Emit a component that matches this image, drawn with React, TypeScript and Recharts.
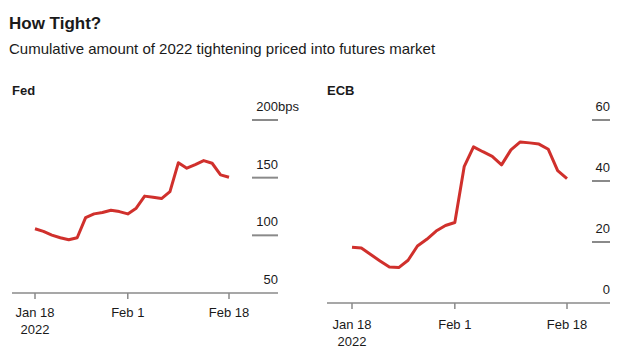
import { LineChart, Line, XAxis, YAxis } from 'recharts';

// x positions are trading-day index; ticks sit at these indexes
const tickIndex = [0, 11, 23];
const tickLabels = ['Jan 18', 'Feb 1', 'Feb 18'];
const yearLabel = '2022';

// basis points of 2022 tightening priced in
const fedValues = [
  105.7, 103.4, 100.2, 97.9, 96.1, 97.9, 115.4, 118.6, 119.8, 121.8, 120.6, 118.6,
  123.5, 134.0, 133.1, 131.9, 137.9, 163.0, 158.2, 161.3, 164.8, 162.5, 152.4, 150.4,
];
const ecbValues = [
  18.3, 18.0, 15.9, 13.8, 11.8, 11.6, 14.0, 18.7, 20.9, 23.6, 25.4, 26.4,
  44.7, 51.2, 49.6, 48.1, 45.3, 50.2, 52.8, 52.5, 52.1, 50.4, 43.4, 40.8,
];
const fedTicks = [50, 100, 150, 200];
const ecbTicks = [0, 20, 40, 60];

const RED = '#d0302c';
const GREY = '#8a8a8a';
const TEXT = '#1a1a1a';
const FONT = '"Liberation Sans", Arial, Helvetica, sans-serif';

type PanelProps = {
  title: string;
  values: number[];
  yTicks: number[];
  unit?: string;
  left: number;
  width: number;
  height: number;
  margin: { top: number; right: number; left: number; bottom: number };
  padLeft: number;
  padRight: number;
  segLen: number;
  axisHeight: number;
  labelDy: number;
};

function Panel(p: PanelProps) {
  const data = p.values.map((v, i) => ({ i, v }));
  const rightX = p.width - p.margin.right;
  const lastTick = p.yTicks[p.yTicks.length - 1];

  const YTick = (props: any) => {
    const { y, payload } = props;
    const val = payload.value;
    return (
      <g>
        {val !== p.yTicks[0] && (
          <line x1={rightX - p.segLen} x2={rightX} y1={y} y2={y} stroke={GREY} strokeWidth={2} />
        )}
        <text x={rightX} y={y - 9} textAnchor="end" fontSize={13} fill={TEXT} fontFamily={FONT}>
          {val}
        </text>
        {p.unit && val === lastTick && (
          <text x={rightX} y={y - 9} textAnchor="start" fontSize={13} fill={TEXT} fontFamily={FONT}>
            {p.unit}
          </text>
        )}
      </g>
    );
  };

  const XTick = (props: any) => {
    const { x, y, payload } = props;
    const k = tickIndex.indexOf(payload.value);
    return (
      <g>
        <text x={x} y={y + p.labelDy} textAnchor="middle" fontSize={13} fill={TEXT} fontFamily={FONT}>
          {tickLabels[k]}
        </text>
        {k === 0 && (
          <text x={x} y={y + p.labelDy + 17} textAnchor="middle" fontSize={13} fill={TEXT} fontFamily={FONT}>
            {yearLabel}
          </text>
        )}
      </g>
    );
  };

  return (
    <div style={{ position: 'absolute', left: p.left, top: 80, width: p.width, height: p.height }}>
      <div
        style={{
          position: 'absolute',
          left: p.margin.left,
          top: 3,
          fontSize: 13,
          fontWeight: 700,
          color: TEXT,
        }}
      >
        {p.title}
      </div>
      <LineChart width={p.width} height={p.height} data={data} margin={p.margin} style={{ overflow: 'visible' }}>
        <XAxis
          dataKey="i"
          type="number"
          domain={[0, 23]}
          ticks={tickIndex}
          interval={0}
          padding={{ left: p.padLeft, right: p.padRight }}
          height={p.axisHeight}
          axisLine={{ stroke: GREY, strokeWidth: 1.5 }}
          tickLine={{ stroke: GREY, strokeWidth: 1.5 }}
          tickSize={6}
          tick={<XTick />}
        />
        <YAxis
          orientation="right"
          mirror
          type="number"
          domain={[p.yTicks[0], lastTick]}
          ticks={p.yTicks}
          interval={0}
          axisLine={false}
          tickLine={false}
          tick={<YTick />}
        />
        <Line
          type="linear"
          dataKey="v"
          stroke={RED}
          strokeWidth={3}
          dot={false}
          strokeLinejoin="round"
          isAnimationActive={false}
        />
      </LineChart>
    </div>
  );
}

export default function App() {
  return (
    <div
      style={{
        position: 'fixed',
        left: 0,
        top: 0,
        width: 625,
        height: 352,
        background: '#fff',
        fontFamily: FONT,
        color: TEXT,
        overflow: 'hidden',
      }}
    >
      <div style={{ position: 'absolute', left: 9, top: 13, fontSize: 17, fontWeight: 700, lineHeight: '22px' }}>
        How Tight?
      </div>
      <div style={{ position: 'absolute', left: 9, top: 39, fontSize: 15, lineHeight: '20px' }}>
        Cumulative amount of 2022 tightening priced into futures market
      </div>
      <Panel
        title="Fed"
        values={fedValues}
        yTicks={fedTicks}
        unit="bps"
        left={0}
        width={310}
        height={272}
        margin={{ top: 40, right: 32, left: 12, bottom: 0 }}
        padLeft={23}
        padRight={49}
        segLen={26}
        axisHeight={59}
        labelDy={16}
      />
      <Panel
        title="ECB"
        values={ecbValues}
        yTicks={ecbTicks}
        left={310}
        width={315}
        height={272}
        margin={{ top: 40, right: 15, left: 17, bottom: 0 }}
        padLeft={25}
        padRight={43}
        segLen={18}
        axisHeight={49}
        labelDy={18}
      />
    </div>
  );
}
